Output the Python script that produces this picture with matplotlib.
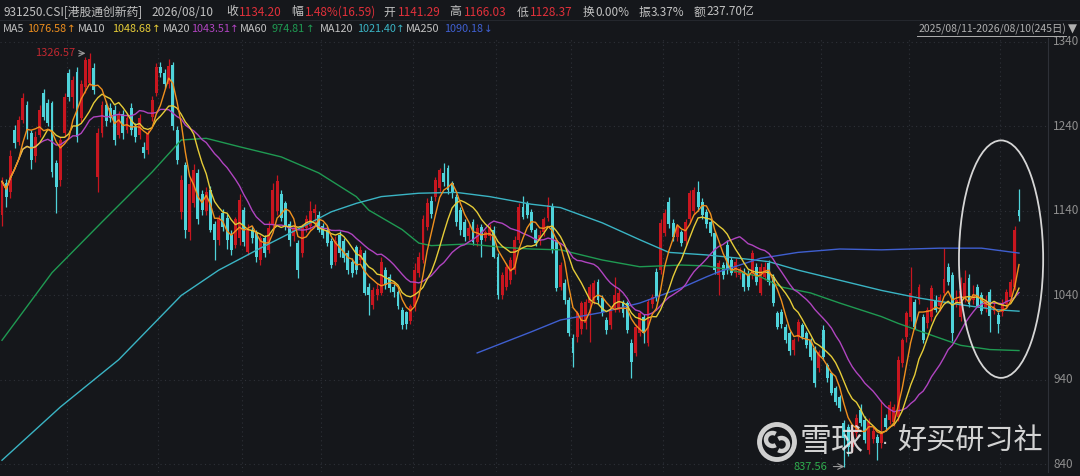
import numpy as np
import pandas as pd
import matplotlib
matplotlib.use("Agg")
import matplotlib.pyplot as plt
from matplotlib.patches import Ellipse, Circle, Arc
from matplotlib.lines import Line2D

plt.rcParams['font.family'] = ['Noto Sans CJK SC', 'DejaVu Sans']

# daily OHLC, 2025/08/11 - 2026/08/10 (245 days)
opens = [
    1135, 1173, 1162, 1236, 1222, 1248, 1265, 1232, 1205, 1230,
    1280, 1268, 1268, 1197, 1177, 1232, 1303, 1275, 1304, 1250,
    1287, 1292, 1309, 1180, 1232, 1265, 1262, 1260, 1230, 1255,
    1236, 1262, 1240, 1230, 1216, 1212, 1251, 1280, 1310, 1303,
    1290, 1313, 1236, 1139, 1194, 1115, 1150, 1185, 1160, 1140,
    1165, 1124, 1106, 1138, 1132, 1112, 1100, 1108, 1141, 1092,
    1118, 1114, 1082, 1108, 1094, 1125, 1140, 1160, 1149, 1124,
    1110, 1102, 1090, 1120, 1122, 1138, 1135, 1122, 1118, 1104,
    1080, 1112, 1104, 1090, 1080, 1097, 1082, 1090, 1050, 1029,
    1040, 1043, 1070, 1062, 1050, 1044, 1023, 1020, 1010, 1027,
    1067, 1082, 1121, 1152, 1157, 1167, 1185, 1191, 1173, 1157,
    1141, 1127, 1110, 1127, 1103, 1121, 1108, 1110, 1118, 1086,
    1040, 1050, 1058, 1070, 1106, 1145, 1149, 1139, 1118, 1104,
    1115, 1132, 1145, 1106, 1050, 1055, 1035, 990, 991, 1000,
    1007, 1031, 1035, 1056, 1037, 1011, 1005, 1025, 1023, 1031,
    1031, 984, 972, 996, 1015, 984, 1030, 1068, 1070, 1114,
    1151, 1126, 1109, 1115, 1104, 1130, 1140, 1162, 1151, 1139,
    1127, 1114, 1064, 1076, 1100, 1082, 1067, 1064, 1068, 1066,
    1067, 1074, 1043, 1062, 1078, 1062, 1019, 1020, 1003, 996,
    975, 991, 1005, 996, 987, 978, 954, 999, 958, 948,
    930, 920, 889, 884, 861, 877, 905, 893, 857, 870,
    873, 866, 895, 893, 890, 896, 960, 991, 1015, 1032,
    1035, 1015, 1007, 1015, 1035, 1027, 1043, 1074, 1064, 1031,
    1015, 1037, 1061, 1035, 1050, 1040, 1025, 1044, 1022, 1017,
    1020, 1030, 1038, 1050, 1141.29,
]
highs = [
    1180, 1178, 1212, 1242, 1252, 1280, 1270, 1236, 1235, 1265,
    1284, 1272, 1270, 1200, 1228, 1280, 1308, 1300, 1310, 1295,
    1322, 1326.57, 1315, 1238, 1270, 1270, 1268, 1266, 1258, 1260,
    1256, 1268, 1244, 1255, 1222, 1236, 1276, 1315, 1316, 1308,
    1320, 1316, 1240, 1182, 1198, 1180, 1195, 1190, 1165, 1168,
    1170, 1128, 1135, 1142, 1136, 1118, 1133, 1160, 1145, 1125,
    1122, 1118, 1112, 1112, 1128, 1173, 1182, 1165, 1152, 1128,
    1125, 1106, 1125, 1135, 1152, 1148, 1140, 1126, 1122, 1108,
    1110, 1116, 1108, 1094, 1084, 1100, 1098, 1094, 1055, 1050,
    1055, 1085, 1074, 1066, 1054, 1046, 1026, 1022, 1030, 1078,
    1092, 1135, 1155, 1158, 1180, 1191, 1197, 1194, 1176, 1160,
    1145, 1130, 1124, 1130, 1124, 1125, 1118, 1124, 1122, 1090,
    1068, 1078, 1085, 1110, 1150, 1158, 1152, 1142, 1120, 1118,
    1133, 1157, 1150, 1108, 1080, 1060, 1038, 994, 1022, 1034,
    1036, 1054, 1058, 1060, 1040, 1014, 1026, 1062, 1048, 1035,
    1034, 988, 1006, 1022, 1018, 1036, 1042, 1072, 1130, 1142,
    1156, 1130, 1125, 1118, 1130, 1165, 1168, 1175, 1155, 1142,
    1130, 1116, 1082, 1080, 1106, 1086, 1084, 1074, 1072, 1070,
    1094, 1078, 1078, 1080, 1082, 1066, 1022, 1024, 1006, 998,
    990, 1012, 1008, 998, 990, 980, 976, 1005, 960, 950,
    933, 922, 893, 888, 885, 900, 912, 897, 895, 885,
    876, 916, 900, 915, 912, 968, 990, 1022, 1074, 1036,
    1054, 1018, 1026, 1052, 1040, 1042, 1096, 1078, 1068, 1046,
    1062, 1070, 1066, 1052, 1054, 1044, 1040, 1048, 1034, 1020,
    1036, 1048, 1060, 1122, 1166.03,
]
lows = [
    1122, 1145, 1155, 1215, 1218, 1244, 1225, 1190, 1198, 1228,
    1248, 1240, 1180, 1138, 1170, 1228, 1270, 1262, 1222, 1245,
    1280, 1288, 1278, 1162, 1228, 1240, 1245, 1218, 1226, 1225,
    1232, 1230, 1222, 1225, 1203, 1208, 1246, 1276, 1298, 1285,
    1286, 1236, 1195, 1130, 1108, 1106, 1145, 1125, 1135, 1135,
    1115, 1082, 1100, 1116, 1095, 1088, 1096, 1100, 1098, 1088,
    1102, 1080, 1076, 1085, 1090, 1120, 1135, 1128, 1118, 1098,
    1105, 1061, 1085, 1115, 1118, 1125, 1115, 1108, 1098, 1072,
    1076, 1086, 1080, 1066, 1062, 1066, 1078, 1040, 1017, 1024,
    1035, 1040, 1048, 1044, 1038, 1024, 1000, 1000, 1006, 1022,
    1062, 1078, 1118, 1132, 1152, 1162, 1170, 1160, 1155, 1122,
    1112, 1105, 1106, 1100, 1098, 1086, 1104, 1106, 1084, 1036,
    1036, 1046, 1054, 1066, 1102, 1130, 1132, 1115, 1098, 1100,
    1110, 1128, 1090, 1045, 1046, 1030, 992, 955, 985, 995,
    1000, 985, 1030, 1030, 1016, 995, 1000, 1020, 1020, 1015,
    996, 942, 968, 992, 984, 980, 1025, 1034, 1066, 1110,
    1120, 1105, 1105, 1098, 1100, 1126, 1136, 1140, 1130, 1120,
    1110, 1065, 1040, 1060, 1066, 1064, 1062, 1060, 1045, 1046,
    1060, 1052, 1040, 1058, 1052, 1028, 1000, 1002, 984, 970,
    970, 986, 988, 978, 964, 932, 950, 964, 938, 922,
    910, 903, 837.56, 850, 855, 872, 885, 865, 852, 866,
    845, 860, 880, 888, 886, 892, 955, 985, 1010, 1000,
    1030, 984, 1002, 1010, 1020, 1022, 1040, 1052, 986, 1026,
    1010, 1032, 1026, 1030, 1026, 1018, 1020, 997, 1018, 996,
    1016, 1026, 1034, 1046, 1128.37,
]
closes = [
    1175, 1157, 1205, 1220, 1248, 1274, 1236, 1200, 1228, 1260,
    1251, 1244, 1186, 1168, 1224, 1275, 1275, 1295, 1228, 1290,
    1319, 1320, 1283, 1232, 1265, 1246, 1250, 1224, 1254, 1232,
    1250, 1236, 1228, 1250, 1209, 1232, 1271, 1310, 1303, 1290,
    1312, 1240, 1200, 1177, 1118, 1172, 1188, 1130, 1141, 1162,
    1118, 1106, 1130, 1121, 1106, 1094, 1130, 1153, 1103, 1118,
    1108, 1086, 1108, 1090, 1120, 1165, 1175, 1132, 1121, 1106,
    1120, 1070, 1121, 1130, 1140, 1142, 1118, 1112, 1102, 1076,
    1104, 1090, 1084, 1070, 1067, 1070, 1094, 1043, 1040, 1046,
    1048, 1080, 1052, 1049, 1044, 1027, 1005, 1006, 1027, 1070,
    1086, 1130, 1149, 1136, 1177, 1188, 1174, 1165, 1161, 1127,
    1118, 1109, 1120, 1103, 1120, 1106, 1115, 1121, 1086, 1040,
    1064, 1074, 1082, 1106, 1145, 1133, 1135, 1118, 1102, 1112,
    1130, 1147, 1094, 1049, 1076, 1035, 996, 972, 1019, 1031,
    1032, 1050, 1055, 1035, 1020, 999, 1023, 1040, 1043, 1019,
    999, 961, 1003, 1019, 996, 1032, 1038, 1038, 1126, 1138,
    1124, 1109, 1121, 1102, 1127, 1161, 1165, 1145, 1135, 1124,
    1114, 1070, 1078, 1064, 1070, 1067, 1080, 1070, 1050, 1050,
    1090, 1056, 1074, 1074, 1056, 1031, 1003, 1006, 987, 974,
    987, 1009, 991, 981, 967, 936, 973, 967, 942, 925,
    914, 907, 871, 861, 881, 895, 889, 869, 890, 880,
    865, 879, 884, 910, 908, 964, 987, 1019, 1043, 1003,
    1050, 987, 1023, 1049, 1023, 1038, 1060, 1056, 996, 1035,
    1045, 1055, 1030, 1040, 1028, 1022, 1033, 1016, 1027, 1006,
    1031, 1044, 1056, 1117.61, 1134.20,
]

# long moving averages (history before the window is not shown)
ma60_day = [0, 12, 24, 36, 43, 49, 57, 67, 76, 85, 88, 96, 100, 103, 112, 120, 127,
            134, 144, 153, 163, 169, 175, 182, 187, 194, 201, 211, 215, 223, 230, 237, 244]
ma60_val = [987, 1067, 1127, 1186, 1224, 1226, 1216, 1204, 1185, 1157, 1141, 1118, 1102,
            1099, 1101, 1097, 1095, 1094, 1082, 1074, 1076, 1075, 1070, 1062, 1050, 1043,
            1031, 1015, 1007, 993, 981, 976, 974.81]
ma120_day = [0, 14, 28, 43, 52, 62, 72, 79, 85, 91, 100, 109, 117, 127, 134, 144, 153,
             160, 169, 177, 184, 191, 201, 211, 220, 230, 239, 244]
ma120_val = [845, 908, 964, 1040, 1070, 1096, 1121, 1139, 1149, 1157, 1161, 1162, 1157,
             1148, 1144, 1126, 1106, 1091, 1088, 1084, 1080, 1070, 1058, 1046, 1037, 1029,
             1023, 1021.40]
ma250_day = [114, 127, 134, 144, 153, 163, 169, 172, 182, 191, 201, 211, 225, 235, 244]
ma250_val = [972, 997, 1011, 1020, 1031, 1049, 1062, 1068, 1084, 1091, 1095, 1094, 1096,
             1096, 1090.18]

month_breaks = [15.5, 37.5, 57.5, 76.5, 98.5, 118.5, 136.5, 158.5, 176.5, 196.5, 217.5, 239.5]
y_ticks = [1340, 1240, 1140, 1040, 940, 840]

BG = '#15171b'
RED = '#c8161f'
CYAN = '#4fd3da'
GRID = '#2e3138'
C_MA5, C_MA10, C_MA20 = '#f0901e', '#e6cc38', '#b044c0'
C_MA60, C_MA120, C_MA250 = '#1f9a52', '#3ab4c4', '#3f5fd0'
TXT = '#c2c2c2'
VAL_RED = '#e0303a'

o = np.array(opens, float)
h = np.array(highs, float)
l = np.array(lows, float)
c = np.array(closes, float)
days = np.arange(len(c))
cs = pd.Series(c)
ma5 = cs.rolling(5, min_periods=1).mean()
ma10 = cs.rolling(10, min_periods=1).mean()
ma20 = cs.rolling(20, min_periods=1).mean()

W, H = 1080, 476
fig = plt.figure(figsize=(W / 100, H / 100), dpi=100, facecolor=BG)
ax = fig.add_axes([0, 1 - 472 / H, 1048 / W, 434 / H])
ax.set_facecolor(BG)
ax.set_xlim(-0.48, 250.96)
ax.set_ylim(831.1, 1344.7)
for s in ax.spines.values():
    s.set_visible(False)
ax.spines['right'].set_visible(True)
ax.spines['right'].set_color(GRID)
ax.set_xticks([])
ax.set_yticks([])

for v in y_ticks:
    ax.axhline(v, color=GRID, lw=0.8, ls=(0, (1, 3)), zorder=0)
for b in month_breaks:
    ax.axvline(b, color=GRID, lw=0.8, ls=(0, (1, 3)), zorder=0)

up = c >= o
cols = np.where(up, RED, CYAN)
ax.vlines(days, l, h, colors=cols, lw=0.9, zorder=2)
body = np.maximum(np.abs(c - o), 0.8)
ax.bar(days, body, bottom=np.minimum(o, c), width=0.7, color=cols, zorder=3)

ax.plot(ma60_day, ma60_val, color=C_MA60, lw=1.0, zorder=4)
ax.plot(ma120_day, ma120_val, color=C_MA120, lw=1.0, zorder=4)
ax.plot(ma250_day, ma250_val, color=C_MA250, lw=1.0, zorder=4)
ax.plot(days, ma20, color=C_MA20, lw=1.0, zorder=5)
ax.plot(days, ma10, color=C_MA10, lw=1.0, zorder=5)
ax.plot(days, ma5, color=C_MA5, lw=1.0, zorder=5)

# max / min labels
imax = int(np.argmax(h))
imin = int(np.argmin(l))
ax.annotate('', xy=(imax - 0.3, h[imax]), xytext=(imax - 3.2, h[imax]),
            arrowprops=dict(arrowstyle='->', color='#9a9a9a', lw=0.8))
ax.text(imax - 3.4, h[imax], f'{h[imax]:.2f}', color='#c02830', fontsize=8,
        ha='right', va='center')
ax.text(imin - 12.2, l[imin], f'{l[imin]:.2f}', color='#2fae4e', fontsize=8,
        ha='left', va='center')
ax.annotate('', xy=(imin + 0.8, l[imin]), xytext=(imin - 3.2, l[imin]),
            arrowprops=dict(arrowstyle='->', color='#9a9a9a', lw=0.8))

# highlight ellipse
ax.add_patch(Ellipse((239.7, 1083), 20.2, 281, fill=False, ec='#d6d6d6', lw=1.3, zorder=6))

# right axis labels
for v in y_ticks:
    ax.text(1.0048, v, str(v), transform=ax.get_yaxis_transform(), color='#8e8e8e',
            fontsize=8.5, ha='left', va='center', clip_on=False)


def ftext(px, py, s, color=TXT, size=8.5, **kw):
    kw.setdefault('ha', 'left')
    return fig.text(px / W, 1 - py / H, s, color=color, fontsize=size, va='center', **kw)


# header row 1
ftext(3, 12, '931250.CSI[港股通创新药]')
ftext(151, 12, '2026/08/10')
ftext(226, 12, '收')
ftext(239, 12, '1134.20', VAL_RED)
ftext(291, 12, '幅')
ftext(305, 12, '1.48%(16.59)', VAL_RED)
ftext(383, 12, '开')
ftext(398, 12, '1141.29', VAL_RED)
ftext(449, 12, '高')
ftext(464, 12, '1166.03', VAL_RED)
ftext(517, 12, '低')
ftext(530, 12, '1128.37', VAL_RED)
ftext(583, 12, '换')
ftext(595, 12, '0.00%')
ftext(639, 12, '振')
ftext(651, 12, '3.37%')
ftext(694, 12, '额')
ftext(706, 12, '237.70亿')
fig.add_artist(Line2D([0, 1], [1 - 20 / H, 1 - 20 / H], color='#24272d', lw=0.8))

# header row 2: label, value; arrow placed right after the measured value
ma_labels = [('MA5', 3, 27, '1076.58', '↑', C_MA5),
             ('MA10', 78, 112, '1048.68', '↑', C_MA10),
             ('MA20', 163, 191, '1043.51', '↑', C_MA20),
             ('MA60', 240, 272, '974.81', '↑', C_MA60),
             ('MA120', 320, 357, '1021.40', '↑', C_MA120),
             ('MA250', 406, 444, '1090.18', '↓', C_MA250)]
renderer = fig.canvas.get_renderer()
for name, x0, x1, val, arr, col in ma_labels:
    ftext(x0, 29, name, size=7.8)
    t = ftext(x1, 29, val, col, 7.8)
    x_end = t.get_window_extent(renderer).x1
    ftext(x_end + 0.5, 29, arr, col, 7.5, family=['DejaVu Sans'])
ftext(1066, 29, '2025/08/11-2026/08/10(245日)', '#b0b0b0', 7.5, ha='right')
fig.add_artist(Line2D([917 / W, 1066 / W], [1 - 36 / H, 1 - 36 / H], color='#b0b0b0', lw=0.7))
ftext(1068, 29, '▼', '#b0b0b0', 8.5, family=['DejaVu Sans'])

# watermark
wm = '#e4e4e4'
fig.add_artist(Circle((7.77, 0.34), 0.175, transform=fig.dpi_scale_trans, fill=False,
                      ec=wm, lw=3.5, alpha=0.9))
fig.add_artist(Arc((7.725, 0.365), 0.13, 0.13, theta1=60, theta2=300,
                   transform=fig.dpi_scale_trans, ec=wm, lw=3.2, alpha=0.9))
fig.add_artist(Arc((7.815, 0.315), 0.13, 0.13, theta1=240, theta2=480,
                   transform=fig.dpi_scale_trans, ec=wm, lw=3.2, alpha=0.9))
ftext(800, 442, '雪球', wm, 23, alpha=0.92)
ftext(882, 444, '·', wm, 14, alpha=0.92, family=['DejaVu Sans'])
ftext(897, 442, '好买研习社', wm, 21, alpha=0.92)

fig.savefig('out.png', dpi=100, facecolor=BG)
